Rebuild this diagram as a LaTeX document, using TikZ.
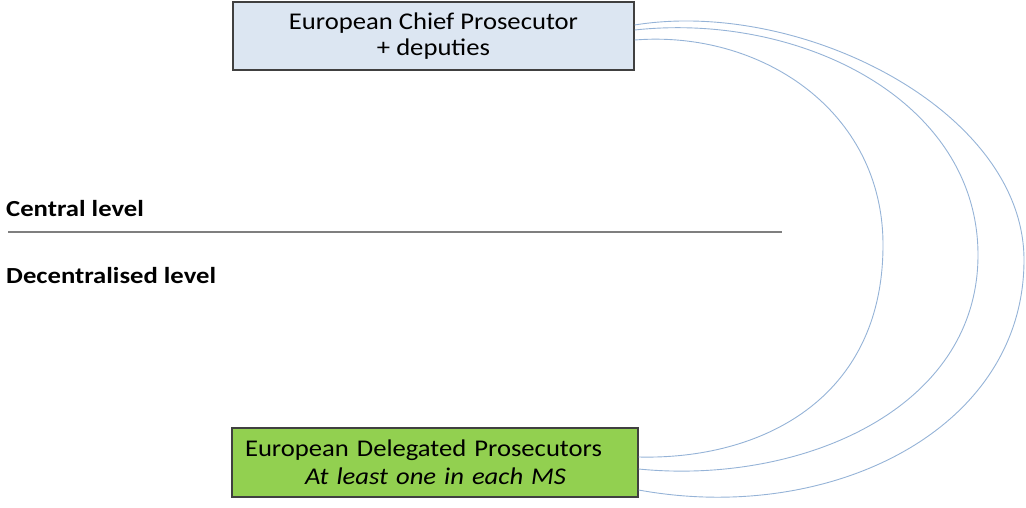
\documentclass[tikz,border=0pt]{standalone}
\usepackage{fontspec}
\setmainfont{Carlito}
\newfontfamily\boxfont[FakeStretch=1.11]{Carlito}
\newfontfamily\lvlfont[FakeStretch=1.16]{Carlito}
\definecolor{boxblue}{HTML}{DCE6F2}
\definecolor{boxgreen}{HTML}{92D050}
\definecolor{arcblue}{HTML}{95B3D7}
\definecolor{rulegray}{HTML}{7F7F7F}
\definecolor{edgegray}{HTML}{404040}
\tikzset{
  box/.style={draw=edgegray, line width=1.2pt, inner sep=0pt},
  lvl/.style={anchor=base west, inner sep=0pt, font=\lvlfont\fontsize{23}{26}\selectfont\bfseries},
  arc/.style={draw=arcblue, line width=0.9pt},
}
\begin{document}
\begin{tikzpicture}[x=1pt,y=-1pt]
\useasboundingbox (0,0) rectangle (1026,507);
\node[box, fill=boxblue, minimum width=401pt, minimum height=68pt, align=center,
  font=\boxfont\fontsize{24}{26}\selectfont] (chief) at (433.5,36)
  {European Chief Prosecutor\\+ deputies};
\node[box, fill=boxgreen, minimum width=406pt, minimum height=69pt, text width=380pt, align=left,
  font=\boxfont\fontsize{24}{28}\selectfont] (deleg) at (435,462.5)
  {European Delegated Prosecutors\\\hspace*{60pt}\textit{At least one in each MS}};
\node[lvl] (central) at (6,216) {Central level};
\node[lvl] (decentral) at (6,283) {Decentralised level};
\coordinate (l1) at (8,232);
\coordinate (l2) at (782,232);
\draw[rulegray, line width=1.3pt] (l1) -- (l2);
% arcs
\coordinate (s1) at (chief.east |- 0,40);
\coordinate (s2) at (chief.east |- 0,30);
\coordinate (s3) at (chief.east |- 0,25);
\coordinate (e1) at (deleg.east |- 0,457);
\coordinate (e2) at (deleg.east |- 0,469);
\coordinate (e3) at (deleg.east |- 0,490);
\coordinate (r1) at (883,245);
\coordinate (r2) at (978,255);
\coordinate (r3) at (1024,260);
\draw[arc] (s1) .. controls (760,30) and (883,110) .. (r1)
  .. controls (883,400) and (760,460) .. (e1);
\draw[arc] (s2) .. controls (800,12) and (978,100) .. (r2)
  .. controls (978,410) and (800,485) .. (e2);
\draw[arc] (s3) .. controls (800,-2) and (1024,110) .. (r3)
  .. controls (1024,430) and (830,525) .. (e3);
\end{tikzpicture}
\end{document}
